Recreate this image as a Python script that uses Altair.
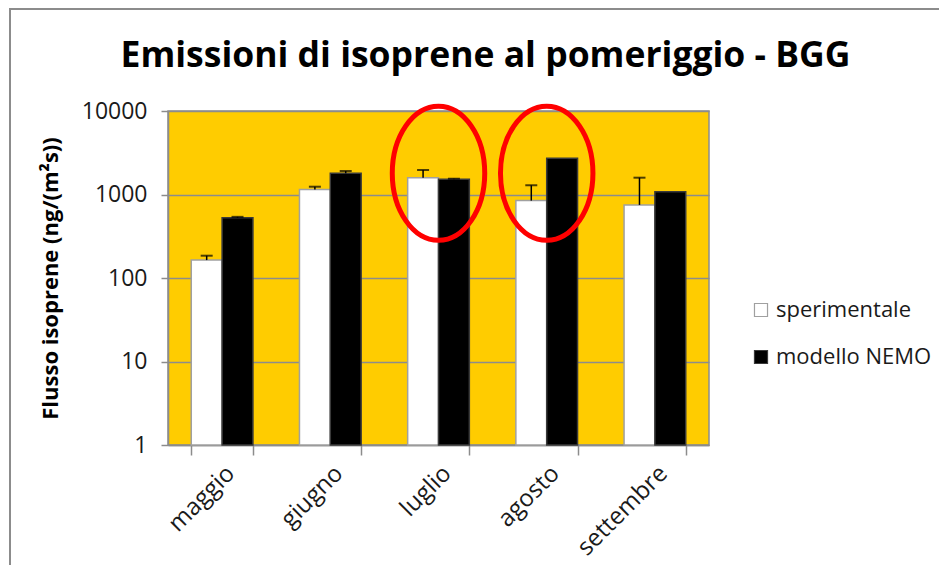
import altair as alt
import pandas as pd

months = ["maggio", "giugno", "luglio", "agosto", "settembre"]
series_names = ["sperimentale", "modello NEMO"]
sper_values = [164, 1150, 1590, 845, 750]
sper_errors = [21, 90, 375, 445, 840]
nemo_values = [527, 1795, 1520, 2710, 1080]
nemo_errors = [13, 115, 25, 0, 0]
y_ticks = [1, 10, 100, 1000, 10000]
highlight_months = ["luglio", "agosto"]
highlight_y = [1800, 1800]

rows = []
for m, v, e in zip(months, sper_values, sper_errors):
    rows.append({"month": m, "series": series_names[0], "value": v, "upper": v + e, "err": e, "base": 1})
for m, v, e in zip(months, nemo_values, nemo_errors):
    rows.append({"month": m, "series": series_names[1], "value": v, "upper": v + e, "err": e, "base": 1})
df = pd.DataFrame(rows)
err_df = df[df["err"] > 0]
hl_df = pd.DataFrame({"month": highlight_months, "y": highlight_y})

FONT = "Open Sans"
GRID = "#8c8c8c"
TEXT = "#1a1a1a"

x_enc = alt.X(
    "month:N", sort=months,
    scale=alt.Scale(paddingInner=0.43, paddingOuter=0.215),
    axis=alt.Axis(
        title=None, tickBand="extent", labelAngle=-45, labelFontSize=24,
        labelFont=FONT, labelColor=TEXT, tickSize=10, labelPadding=6,
        domainColor=GRID, tickColor=GRID, domainWidth=1.5, tickWidth=1.5, grid=False,
    ),
)
xo_enc = alt.XOffset("series:N", sort=series_names, scale=alt.Scale(paddingInner=0, paddingOuter=0))
y_scale = alt.Scale(type="log", domain=[1, 10000], nice=False)
y_enc = alt.Y(
    "value:Q", scale=y_scale,
    axis=alt.Axis(
        title="Flusso isoprene (ng/(m²s))", values=y_ticks, format="d",
        labelFontSize=23, labelFont=FONT, labelColor=TEXT, tickSize=7, labelPadding=14,
        titleFont=FONT, titleFontSize=22, titleFontWeight="bold", titleColor="#000000",
        titlePadding=19, domainColor=GRID, tickColor=GRID, gridColor=GRID,
        domainWidth=1.5, tickWidth=1.5, gridWidth=1.5,
    ),
)

bars = alt.Chart(df).mark_bar(strokeWidth=1.5).encode(
    x=x_enc,
    xOffset=xo_enc,
    y=y_enc,
    y2="base:Q",
    fill=alt.Fill(
        "series:N", sort=series_names,
        scale=alt.Scale(domain=series_names, range=["#ffffff", "#000000"]),
        legend=alt.Legend(
            title=None, orient="none", legendX=582, legendY=188, symbolType="square",
            symbolSize=170, symbolStrokeColor=GRID, symbolStrokeWidth=1.2,
            labelFont=FONT, labelFontSize=22, labelColor=TEXT, rowPadding=25,
            labelOffset=4, padding=0, labelLimit=400,
        ),
    ),
    stroke=alt.Stroke(
        "series:N", sort=series_names,
        scale=alt.Scale(domain=series_names, range=["#a0a0a0", "#3a3a3a"]), legend=None,
    ),
)

err_rules = alt.Chart(err_df).mark_rule(color="#000000", strokeWidth=1.5).encode(
    x=alt.X("month:N", sort=months), xOffset=alt.XOffset("series:N", sort=series_names),
    y=alt.Y("value:Q", scale=y_scale), y2="upper:Q",
)
err_caps = alt.Chart(err_df).mark_tick(color="#000000", size=12, thickness=2).encode(
    x=alt.X("month:N", sort=months), xOffset=alt.XOffset("series:N", sort=series_names),
    y=alt.Y("upper:Q", scale=y_scale),
)

ellipse_path = "M -0.69 0 A 0.69 1 0 1 0 0.69 0 A 0.69 1 0 1 0 -0.69 0 Z"
ellipses = alt.Chart(hl_df).mark_point(
    shape=ellipse_path, size=17956, filled=False, stroke="#ff0000", strokeWidth=5, opacity=1,
).encode(
    x=alt.X("month:N", sort=months), y=alt.Y("y:Q", scale=y_scale),
)

frame_top = alt.Chart(hl_df.head(1)).mark_rule(color="#8c8c8c", strokeWidth=2).encode(
    x=alt.value(-159), x2=alt.value(780), y=alt.value(-102),
)
frame_left = alt.Chart(hl_df.head(1)).mark_rule(color="#8c8c8c", strokeWidth=2).encode(
    x=alt.value(-158), y=alt.value(-103), y2=alt.value(470),
)

chart = alt.layer(bars, err_rules, err_caps, ellipses, frame_top, frame_left).properties(
    width=541, height=334,
    background="#ffffff",
    title=alt.TitleParams(
        "Emissioni di isoprene al pomeriggio - BGG", font=FONT, fontSize=35.5,
        fontWeight="bold", color="#000000", anchor="middle", dx=47, offset=-67,
    ),
    autosize=alt.AutoSizeParams(type="none"),
    padding={"left": 160, "top": 103, "right": 230, "bottom": 120},
).configure_view(
    fill="#FFCC00", stroke=GRID, strokeWidth=1.5
)

chart.save("out.html", embed_options={"renderer": "svg", "actions": False})
